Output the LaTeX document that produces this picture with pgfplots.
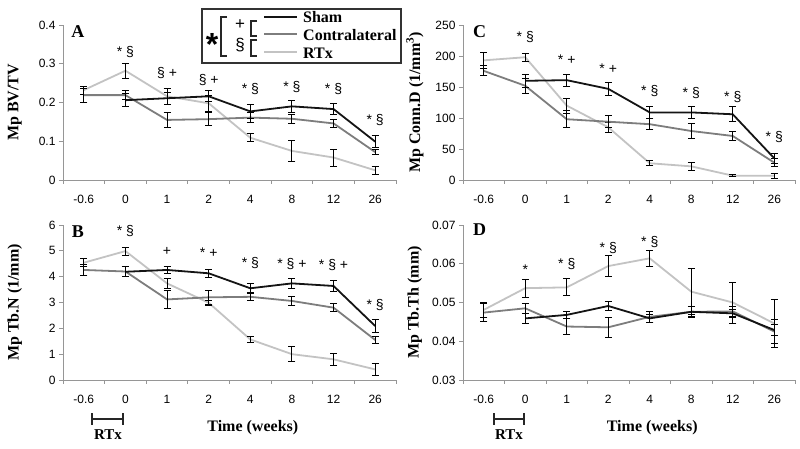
\documentclass[border=0pt]{standalone}
\usepackage{pgfplots}
\pgfplotsset{compat=1.18}
\usepackage{fontspec}
\setmainfont{Liberation Serif}
\setsansfont{Liberation Sans}
\definecolor{sham}{RGB}{20,20,20}
\definecolor{contra}{RGB}{125,125,125}
\definecolor{rtx}{RGB}{195,195,195}
\definecolor{axisgray}{RGB}{150,150,150}
\newcommand{\ann}{\sffamily\fontsize{14}{15}\selectfont}
\newcommand{\ttl}{\bfseries\rmfamily\fontsize{16}{17}\selectfont}
\pgfplotsset{
  panel/.style={
    scale only axis, width=333pt, height=155pt, anchor=south west,
    xmin=-0.5, xmax=7.5, clip=false, scaled y ticks=false,
    axis x line*=bottom, axis y line*=left,
    axis line style={axisgray,-,line width=0.8pt},
    xtick={0,...,7}, xticklabels={-0.6,0,1,2,4,8,12,26},
    minor xtick={-0.5,0.5,...,7.5},
    tick align=outside, major tick length=4pt, minor tick length=4pt,
    major x tick style={draw=none},
    every tick/.style={axisgray,line width=0.8pt},
    minor tick style={axisgray,line width=0.8pt},
    /pgf/number format/assume math mode=true,
    ticklabel style={font=\sffamily\fontsize{12}{13}\selectfont},
    xticklabel style={yshift=-8pt},
    every axis y label/.style={at={(axis description cs:-0.145,0.5)},rotate=90,anchor=center,font=\ttl},
    every axis x label/.style={at={(axis description cs:0.57,-0.31)},anchor=center,font=\ttl},
  },
  ser/.style={no marks, line width=1.8pt, #1,
    error bars/.cd, y dir=both, y explicit,
    error bar style={black,line width=0.9pt},
    error mark options={rotate=90,black,mark size=3.5pt,line width=0.9pt}},
}
\begin{document}
\begin{tikzpicture}[x=1pt,y=1pt]
\useasboundingbox (0pt,0pt) rectangle (800pt,449pt);

% ---------- A ----------
\begin{axis}[panel, at={(63pt,269pt)}, ymin=0, ymax=0.4,
  ytick={0,0.1,0.2,0.3,0.4}, yticklabels={0,0.1,0.2,0.3,0.4},
  ylabel={Mp BV/TV}]
\addplot[ser=rtx] table[y error=e] {
x y e
0 0.232 0.010
1 0.282 0.020
2 0.216 0.020
3 0.198 0.020
4 0.109 0.010
5 0.075 0.027
6 0.058 0.022
7 0.025 0.010
};
\addplot[ser=contra] table[y error=e] {
x y e
0 0.219 0.018
1 0.219 0.012
2 0.155 0.020
3 0.157 0.017
4 0.161 0.013
5 0.158 0.012
6 0.146 0.010
7 0.072 0.006
};
\addplot[ser=sham] table[y error=e] {
x y e
1 0.206 0.017
2 0.211 0.015
3 0.216 0.014
4 0.177 0.018
5 0.190 0.015
6 0.183 0.014
7 0.099 0.015
};
\node[font=\bfseries\rmfamily\fontsize{18}{19}\selectfont] at (axis description cs:0.045,0.955) {A};
\node[font=\ann] at (axis cs:1,0.330) {* §};
\node[font=\ann] at (axis cs:2,0.275) {§ +};
\node[font=\ann] at (axis cs:3,0.258) {§ +};
\node[font=\ann] at (axis cs:4,0.234) {* §};
\node[font=\ann] at (axis cs:5,0.240) {* §};
\node[font=\ann] at (axis cs:6,0.234) {* §};
\node[font=\ann] at (axis cs:7,0.155) {* §};
\end{axis}

% ---------- B ----------
\begin{axis}[panel, at={(63pt,69pt)}, ymin=0, ymax=6,
  ytick={0,...,6}, yticklabels={0,1,2,3,4,5,6},
  ylabel={Mp Tb.N (1/mm)}, xlabel={Time (weeks)}]
\addplot[ser=rtx] table[y error=e] {
x y e
0 4.54 0.15
1 4.99 0.15
2 3.74 0.20
3 2.99 0.10
4 1.57 0.12
5 1.00 0.28
6 0.80 0.23
7 0.41 0.22
};
\addplot[ser=contra] table[y error=e] {
x y e
0 4.26 0.20
1 4.20 0.20
2 3.12 0.35
3 3.20 0.27
4 3.22 0.15
5 3.06 0.18
6 2.80 0.15
7 1.55 0.15
};
\addplot[ser=sham] table[y error=e] {
x y e
1 4.19 0.20
2 4.26 0.15
3 4.13 0.15
4 3.55 0.20
5 3.74 0.20
6 3.64 0.20
7 2.09 0.25
};
\node[font=\bfseries\rmfamily\fontsize{18}{19}\selectfont] at (axis description cs:0.045,0.955) {B};
\node[font=\ann] at (axis cs:1,5.78) {* §};
\node[font=\ann] at (axis cs:2,4.97) {+};
\node[font=\ann] at (axis cs:3,4.93) {* +};
\node[font=\ann] at (axis cs:4,4.54) {* §};
\node[font=\ann] at (axis cs:5,4.50) {* § +};
\node[font=\ann] at (axis cs:6,4.45) {* § +};
\node[font=\ann] at (axis cs:7,2.90) {* §};
\end{axis}

% ---------- C ----------
\begin{axis}[panel, at={(463pt,269pt)}, width=332pt, ymin=0, ymax=250,
  ytick={0,50,...,250}, yticklabels={0,50,100,150,200,250},
  ylabel={Mp Conn.D (1/mm$^{\mathbf{3}}$)}]
\addplot[ser=rtx] table[y error=e] {
x y e
0 193 13
1 198 6
2 120 12
3 85 8
4 27 4
5 22 6
6 7 2
7 7 4
};
\addplot[ser=contra] table[y error=e] {
x y e
0 176 8
1 152 12
2 98 14
3 94 10
4 90 9
5 79 12
6 71 8
7 28 6
};
\addplot[ser=sham] table[y error=e] {
x y e
1 160 10
2 161 10
3 147 10
4 109 10
5 109 10
6 106 12
7 35 8
};
\node[font=\bfseries\rmfamily\fontsize{18}{19}\selectfont] at (axis description cs:0.05,0.955) {C};
\node[font=\ann] at (axis cs:1,230) {* §};
\node[font=\ann] at (axis cs:2,193.5) {* +};
\node[font=\ann] at (axis cs:3,179) {* +};
\node[font=\ann] at (axis cs:4,144) {* §};
\node[font=\ann] at (axis cs:5,140) {* §};
\node[font=\ann] at (axis cs:6,134) {* §};
\node[font=\ann] at (axis cs:7,69) {* §};
\end{axis}

% ---------- D ----------
\begin{axis}[panel, at={(463pt,69pt)}, width=332pt, ymin=0.03, ymax=0.07,
  ytick={0.03,0.04,0.05,0.06,0.07}, yticklabels={0.03,0.04,0.05,0.06,0.07},
  ylabel={Mp Tb.Th (mm)}, xlabel={Time (weeks)}]
\addplot[ser=rtx] table[y error=e] {
x y e
0 0.0481 0.0020
1 0.0537 0.0023
2 0.0539 0.0022
3 0.0594 0.0028
4 0.0614 0.0020
5 0.0528 0.0060
6 0.0500 0.0053
7 0.0446 0.0062
};
\addplot[ser=contra] table[y error=e] {
x y e
0 0.0474 0.0023
1 0.0485 0.0012
2 0.0438 0.0021
3 0.0436 0.0025
4 0.0463 0.0015
5 0.0476 0.0015
6 0.0477 0.0012
7 0.0425 0.0030
};
\addplot[ser=sham] table[y error=e] {
x y e
1 0.0459 0.0013
2 0.0468 0.0010
3 0.0491 0.0012
4 0.0459 0.0011
5 0.0476 0.0013
6 0.0472 0.0010
7 0.0429 0.0015
};
\node[font=\bfseries\rmfamily\fontsize{18}{19}\selectfont] at (axis description cs:0.05,0.97) {D};
\node[font=\ann] at (axis cs:1,0.0584) {*};
\node[font=\ann] at (axis cs:2,0.0600) {* §};
\node[font=\ann] at (axis cs:3,0.0640) {* §};
\node[font=\ann] at (axis cs:4,0.0657) {* §};
\end{axis}

% ---------- RTx bars ----------
\foreach \xa/\xb in {92/123, 494/524}{
  \draw[line width=2.8pt,black!85] (\xa pt,30pt) -- (\xb pt,30pt);
  \draw[line width=1.3pt,black!85] (\xa pt,24pt) -- (\xa pt,36pt);
  \draw[line width=1.3pt,black!85] (\xb pt,24pt) -- (\xb pt,36pt);
}
\node[font=\bfseries\rmfamily\fontsize{15}{16}\selectfont] at (108pt,14pt) {RTx};
\node[font=\bfseries\rmfamily\fontsize{15}{16}\selectfont] at (509pt,14pt) {RTx};

% ---------- legend ----------
\draw[line width=1.1pt,black!80,fill=white] (202pt,386pt) rectangle (401pt,440pt);
\node[font=\bfseries\sffamily\fontsize{32}{32}\selectfont] at (212pt,405pt) {*};
\draw[line width=2pt,black!85] (227pt,432pt) -- (221pt,432pt) -- (221pt,393pt) -- (227pt,393pt);
\node[font=\sffamily\fontsize{17}{17}\selectfont] at (240pt,424pt) {+};
\node[font=\sffamily\fontsize{17}{17}\selectfont] at (240pt,404pt) {§};
\draw[line width=2pt,black!85] (257pt,428pt) -- (251pt,428pt) -- (251pt,413pt) -- (257pt,413pt);
\draw[line width=2pt,black!85] (257pt,409pt) -- (251pt,409pt) -- (251pt,393pt) -- (257pt,393pt);
\draw[line width=2.6pt,sham] (264pt,432pt) -- (297pt,432pt);
\draw[line width=2.6pt,contra] (264pt,415pt) -- (297pt,415pt);
\draw[line width=2.6pt,rtx] (264pt,397pt) -- (297pt,397pt);
\node[anchor=west,font=\ttl,inner sep=0pt] at (303pt,432pt) {Sham};
\node[anchor=west,font=\ttl,inner sep=0pt] at (303pt,414pt) {Contralateral};
\node[anchor=west,font=\ttl,inner sep=0pt] at (303pt,396pt) {RTx};
\end{tikzpicture}
\end{document}
